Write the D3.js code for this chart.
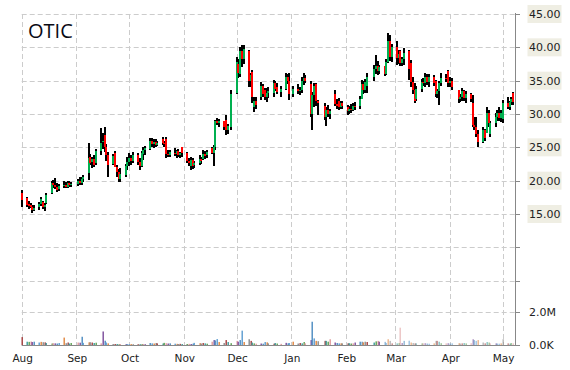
<!DOCTYPE html>
<html><head><meta charset="utf-8">
<script src="https://cdn.jsdelivr.net/npm/d3@7"></script>
<style>body{margin:0;background:#fff}svg{display:block}</style>
</head><body>
<svg id="chart" width="570" height="370"></svg>
<script>
const ticker = "OTIC";
const startDate = "2014-08-01", endDate = "2015-05-08";
const holidays = ["2014-09-01","2014-11-27","2014-12-25","2015-01-01","2015-01-19","2015-02-16","2015-04-03"];
const monthTicks = ["2014-08-01","2014-09-01","2014-10-01","2014-11-01","2014-12-01","2015-01-01","2015-02-01","2015-03-01","2015-04-01","2015-05-01"];
const priceGrid = [5,10,15,20,25,30,35,40,45];
const priceLabels = [15,20,25,30,35,40,45];
const volTicks = [0, 2000000];

const opens = [
18.1,17.4,16.5,16.3,16.1,15.6,16.0,16.5,16.8,16.0,16.6,18.2,19.6,19.3,19.0,18.7,19.2,19.4,19.1,19.6,19.3,
19.5,19.9,19.6,20.3,21.1,23.5,22.8,23.2,22.6,24.4,25.8,26.8,25.0,23.8,22.5,24.2,22.0,21.3,20.3,20.8,22.2,
22.8,23.4,23.0,23.9,22.8,22.2,24.0,24.6,24.8,26.0,25.5,25.8,25.4,26.2,25.7,26.3,24.0,23.8,24.2,24.0,24.4,23.8,25.0,
24.1,23.0,22.2,23.1,22.3,22.7,23.2,23.2,24.0,23.8,24.9,24.2,25.0,29.0,28.6,28.9,29.1,27.6,28.0,
33.2,37.5,36.0,39.5,38.2,39.5,35.0,36.3,31.0,32.0,32.5,34.2,33.6,32.6,33.2,33.2,34.6,34.0,33.3,33.8,35.6,35.0,
33.0,33.8,33.4,33.6,35.0,35.4,34.5,30.0,32.9,34.5,32.0,31.2,29.6,30.6,30.0,33.0,31.5,32.0,31.0,31.6,
31.0,30.4,30.8,30.6,31.2,31.2,32.3,34.5,33.6,34.2,35.5,36.8,37.2,36.4,37.2,36.0,37.8,41.0,38.6,
40.0,38.4,39.4,37.6,38.2,39.4,37.6,34.8,33.6,32.2,33.8,34.8,34.6,35.6,34.8,35.6,35.0,33.0,33.4,34.6,35.4,36.4,
34.6,35.0,33.6,32.2,32.6,33.4,32.4,33.0,31.6,28.4,28.0,27.0,25.8,27.6,27.2,30.2,27.0,28.6,29.6,30.2,29.4,
29.2,31.6,31.0,31.8,33.2];
const highs = [
18.6,17.6,16.9,16.6,16.3,16.4,16.8,17.6,17.0,16.6,18.1,20.0,20.1,20.4,19.7,19.5,20.0,19.8,19.9,20.0,19.8,
20.3,20.5,20.6,20.8,25.6,24.0,23.6,23.8,24.8,27.9,27.2,28.0,25.5,24.3,24.0,24.4,22.3,21.8,21.9,22.5,23.5,
24.1,23.8,24.3,24.2,23.4,24.5,25.0,25.2,26.4,26.4,26.3,26.2,26.0,26.5,26.0,26.5,24.6,24.6,24.9,24.6,24.8,24.3,25.0,
24.3,23.4,23.6,23.4,23.0,23.8,23.6,24.6,24.4,24.6,25.0,25.4,29.1,29.4,29.2,29.0,29.9,28.5,33.6,
38.5,38.3,40.0,40.4,40.3,39.6,36.2,36.6,32.6,32.5,34.8,34.5,33.9,33.9,34.0,35.1,35.0,34.7,34.2,36.2,36.0,36.2,
34.2,34.5,34.0,35.5,36.2,35.8,35.0,33.3,34.7,34.7,32.1,31.6,31.0,31.4,30.8,33.6,32.2,32.4,32.0,32.0,
31.4,31.2,31.5,31.7,31.8,32.7,35.1,35.0,35.2,36.2,37.4,38.9,38.0,37.4,37.2,38.2,42.2,41.8,40.5,
41.0,39.6,39.6,38.6,39.9,39.6,38.1,35.6,34.6,34.2,35.2,35.4,36.2,36.0,36.0,35.9,35.1,33.8,35.0,36.2,36.0,36.6,
35.6,35.4,33.6,33.0,33.9,33.6,33.4,33.2,32.9,29.6,29.6,27.6,28.1,27.8,31.1,30.6,29.0,30.1,30.6,31.1,30.6,
32.1,32.6,32.0,32.6,33.3];
const lows = [
16.1,16.0,15.8,15.9,15.2,15.4,15.6,16.2,15.8,15.4,16.5,18.0,18.9,18.8,18.3,18.4,18.9,18.9,18.9,19.1,19.0,
19.2,19.3,19.4,19.8,20.1,22.3,21.9,22.0,22.3,23.9,24.8,24.3,23.0,20.5,22.3,22.0,20.5,19.8,19.8,20.5,21.6,
22.2,22.4,22.6,22.3,21.6,22.0,23.1,23.8,24.6,25.0,24.9,25.0,25.2,25.3,25.0,23.4,23.5,23.6,23.7,23.4,23.6,23.4,23.6,
22.6,22.2,21.6,21.8,21.9,22.3,22.5,23.1,23.3,23.4,24.0,22.2,24.6,28.3,28.0,27.6,26.9,27.0,27.6,
33.0,35.4,35.6,37.0,37.5,34.0,34.0,31.7,30.3,30.8,32.1,32.5,32.1,31.8,32.4,32.6,33.4,33.0,32.6,33.6,34.5,32.1,
32.6,33.0,32.8,33.2,34.4,34.6,29.5,27.6,31.0,31.2,29.8,29.1,28.2,29.6,29.3,31.2,30.8,30.6,30.7,30.8,
29.9,30.0,30.2,30.4,30.6,30.8,32.2,33.0,33.2,33.2,34.9,36.0,35.9,36.0,35.7,35.8,37.7,38.0,37.8,
37.4,37.5,37.2,37.2,37.4,35.1,34.1,33.0,31.6,32.0,33.3,34.2,34.1,34.4,34.1,34.2,32.6,32.4,31.4,34.2,34.8,34.1,
34.0,33.6,31.6,31.8,31.9,32.0,31.6,31.8,28.1,27.6,26.6,25.1,25.6,26.0,27.1,28.0,26.6,28.0,29.0,29.0,28.8,
28.6,30.8,30.6,31.4,31.4];
const closes = [
17.1,16.4,16.2,16.0,15.6,15.9,16.5,17.3,16.1,16.3,17.9,19.6,19.3,19.0,18.6,19.2,19.4,19.1,19.6,19.3,19.5,
19.9,19.6,20.3,20.5,23.4,22.7,23.2,22.4,24.4,25.6,26.0,25.0,23.8,22.4,23.7,22.1,21.3,20.3,21.0,22.2,22.8,
23.4,22.9,23.9,22.8,22.2,24.2,24.6,24.9,26.0,25.5,25.8,25.4,25.7,25.6,25.6,24.0,23.9,24.3,24.0,24.4,23.8,24.1,24.2,
23.0,22.6,23.1,22.2,22.7,23.2,22.9,24.0,23.7,24.3,24.2,25.0,28.9,28.6,28.9,28.0,27.6,28.2,33.0,
37.8,36.2,39.5,38.2,39.8,35.0,35.8,32.6,32.0,31.3,34.2,33.0,32.6,33.2,33.5,34.6,33.8,33.3,33.8,35.6,35.0,33.0,
33.8,33.4,33.6,35.0,35.4,35.0,30.0,32.9,34.2,32.0,31.7,29.6,30.6,30.0,30.4,31.5,31.2,31.0,31.6,31.2,
30.4,30.8,30.6,31.2,31.0,32.3,34.5,33.6,34.8,35.5,36.8,37.2,36.4,37.0,36.0,37.8,41.0,38.6,40.0,
38.4,39.0,37.6,38.2,39.2,36.8,34.8,33.6,32.0,33.8,34.8,34.6,35.6,34.8,35.6,34.6,33.0,33.4,34.6,35.4,35.2,34.6,
35.0,34.0,32.2,32.6,33.4,32.4,33.0,32.2,28.4,28.0,27.0,25.8,27.6,26.4,30.2,28.6,28.6,29.6,30.2,29.4,30.2,
31.6,31.0,31.8,32.2,31.8];
const volumes = [
480,200,190,210,180,200,150,190,170,160,120,90,110,100,90,120,450,110,150,90,120,
150,140,500,130,160,170,150,120,140,100,820,260,150,100,60,60,60,50,60,50,50,
50,55,50,45,50,60,55,50,120,100,90,120,100,90,130,110,90,100,80,70,60,70,60,
60,70,60,80,130,110,90,120,100,80,200,300,280,360,180,120,300,180,110,
250,200,300,870,180,350,250,150,100,80,90,80,180,160,100,80,120,90,70,130,100,120,
200,90,120,100,180,100,300,1410,400,250,230,250,250,200,350,150,120,100,100,100,
100,110,90,100,150,200,200,160,200,180,150,220,250,200,190,120,350,250,100,
100,120,1050,120,250,260,150,120,100,100,100,100,110,90,80,100,250,250,200,110,100,110,
90,100,110,90,100,120,100,110,350,300,250,300,150,100,180,150,100,100,90,80,100,
350,100,80,120,100];
const volColors = ["#a33b3b","#3a9a9a","#5aa050","#e09a9a","#7a4b9a","#4a8ac0","#5a9bd0","#e0843c","#8a8a8a"];

const parse = d3.timeParse("%Y-%m-%d");
const holidaySet = new Set(holidays);
const fmt = d3.timeFormat("%Y-%m-%d");
const dates = d3.timeDay.range(parse(startDate), parse(endDate))
  .filter(d => d.getDay() !== 0 && d.getDay() !== 6 && !holidaySet.has(fmt(d)));

const data = dates.map((d, i) => ({date: d, o: opens[i], h: highs[i], l: lows[i], c: closes[i], v: volumes[i] * 1000}));

const svg = d3.select("#chart");
const L = 21.7, R = 515, T = 14;
const x = d3.scaleTime().domain([parse(startDate), parse(endDate)]).range([L, R]);
const y = d3.scaleLinear().domain([0, 45]).range([314, 14]);
const yv = d3.scaleLinear().domain([0, 2000000]).range([345, 312]);

const grid = svg.append("g").attr("stroke", "#cccccc").attr("stroke-dasharray", "5,3").attr("stroke-width", 1);
priceGrid.forEach(p => grid.append("line").attr("x1", L).attr("x2", R).attr("y1", Math.round(y(p)) + 0.5).attr("y2", Math.round(y(p)) + 0.5));
grid.append("line").attr("x1", L).attr("x2", R).attr("y1", Math.round(yv(2000000)) + 0.5).attr("y2", Math.round(yv(2000000)) + 0.5);
monthTicks.forEach(m => {
  const xx = Math.round(x(parse(m))) + 0.5;
  grid.append("line").attr("x1", xx).attr("x2", xx).attr("y1", T).attr("y2", 345);
});

// volume
svg.append("g").selectAll("rect").data(data).join("rect")
  .attr("x", d => Math.round(x(d.date)) - 0.5)
  .attr("width", 1.4)
  .attr("y", d => yv(d.v))
  .attr("height", d => 345 - yv(d.v))
  .attr("fill", (d, i) => volColors[i % volColors.length])
  .attr("opacity", (d, i) => i < 140 ? 1 : 0.6);

// candles
const cg = svg.append("g").attr("shape-rendering", "crispEdges");
cg.selectAll("rect.w").data(data).join("rect").attr("class", "w")
  .attr("x", d => Math.round(x(d.date)) - 1)
  .attr("width", 2)
  .attr("y", d => y(d.h))
  .attr("height", d => y(d.l) - y(d.h))
  .attr("fill", "#000");
cg.selectAll("rect.b").data(data).join("rect").attr("class", "b")
  .attr("x", d => Math.round(x(d.date)) - 1)
  .attr("width", 2)
  .attr("y", d => y(Math.max(d.o, d.c)))
  .attr("height", d => Math.max(1, Math.abs(y(d.o) - y(d.c))))
  .attr("fill", d => d.c >= d.o ? "#00b050" : "#ff0000");

// axes
const ax = svg.append("g").attr("stroke", "#888").attr("stroke-width", 1);
ax.append("line").attr("x1", R + 0.5).attr("x2", R + 0.5).attr("y1", T - 1).attr("y2", 345.5);
ax.append("line").attr("x1", L).attr("x2", R + 0.5).attr("y1", 345.5).attr("y2", 345.5);
priceGrid.forEach(p => ax.append("line").attr("x1", R).attr("x2", R + 5).attr("y1", Math.round(y(p)) + 0.5).attr("y2", Math.round(y(p)) + 0.5));
volTicks.forEach(v => ax.append("line").attr("x1", R).attr("x2", R + 5).attr("y1", Math.round(yv(v)) + 0.5).attr("y2", Math.round(yv(v)) + 0.5));

const lab = svg.append("g").attr("font-family", "'DejaVu Sans', Verdana, sans-serif").attr("font-size", "11px").attr("fill", "#222");
priceLabels.forEach(p => {
  lab.append("rect").attr("x", 527.5).attr("y", y(p) - 9).attr("width", 34).attr("height", 18).attr("fill", "#efeee3");
  lab.append("text").attr("x", 529).attr("y", y(p) + 4).text(d3.format(".2f")(p));
});
const vf = v => v === 0 ? "0.0K" : (v / 1e6).toFixed(1) + "M";
volTicks.forEach(v => lab.append("text").attr("x", 529).attr("y", yv(v) + 4).text(vf(v)));

const mf = d3.timeFormat("%b");
monthTicks.forEach(m => {
  lab.append("text").attr("x", x(parse(m)) + 1).attr("y", 362).attr("text-anchor", "middle").attr("font-size", "10.5px").text(mf(parse(m)));
});

svg.append("text").attr("x", 28).attr("y", 37.5).attr("font-family", "'Open Sans', sans-serif").attr("font-size", "20px").attr("fill", "#0a0a14").text(ticker);
</script>
</body></html>
